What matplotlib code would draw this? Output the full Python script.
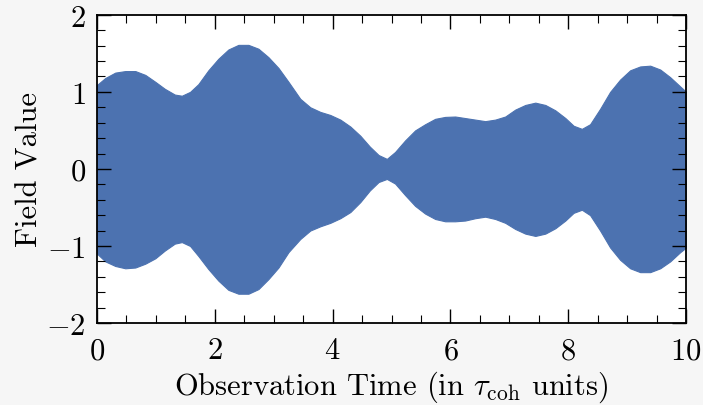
import numpy as np
import matplotlib
matplotlib.use("Agg")
import matplotlib.pyplot as plt
from matplotlib.ticker import MultipleLocator

# envelope of the field (time in tau_coh units)
t = [0.0, 0.14, 0.31, 0.48, 0.65, 0.82, 0.99,
     1.15, 1.32, 1.44, 1.58, 1.72, 1.89,
     2.06, 2.23, 2.40, 2.57, 2.74, 2.91,
     3.08, 3.25, 3.45, 3.62, 3.79, 3.96,
     4.13, 4.30, 4.47, 4.63, 4.78, 4.92,
     5.06, 5.23, 5.40, 5.57, 5.74, 5.91,
     6.08, 6.25, 6.42, 6.59, 6.76, 6.93,
     7.10, 7.27, 7.44, 7.61, 7.78, 7.95,
     8.09, 8.23, 8.37, 8.54, 8.71, 8.88,
     9.05, 9.22, 9.39, 9.56, 9.73, 9.90, 10.0]
upper = [1.09, 1.18, 1.25, 1.27, 1.27, 1.22, 1.13,
         1.04, 0.965, 0.95, 1.00, 1.10, 1.28,
         1.43, 1.55, 1.61, 1.61, 1.56, 1.45,
         1.31, 1.13, 0.91, 0.80, 0.74, 0.70,
         0.64, 0.55, 0.43, 0.29, 0.18, 0.13,
         0.22, 0.37, 0.50, 0.58, 0.65, 0.675,
         0.68, 0.66, 0.64, 0.62, 0.64, 0.68,
         0.77, 0.83, 0.86, 0.83, 0.76, 0.66,
         0.56, 0.52, 0.58, 0.78, 1.00, 1.16,
         1.28, 1.33, 1.34, 1.29, 1.19, 1.07, 1.00]
lower = [-1.10, -1.20, -1.26, -1.29, -1.28, -1.23, -1.16,
         -1.06, -0.97, -0.95, -1.00, -1.13, -1.30,
         -1.45, -1.57, -1.62, -1.62, -1.56, -1.43,
         -1.28, -1.08, -0.91, -0.80, -0.745, -0.70,
         -0.64, -0.56, -0.43, -0.28, -0.17, -0.13,
         -0.19, -0.34, -0.48, -0.58, -0.65, -0.68,
         -0.68, -0.67, -0.64, -0.62, -0.65, -0.70,
         -0.78, -0.84, -0.87, -0.84, -0.77, -0.67,
         -0.57, -0.53, -0.60, -0.80, -1.02, -1.18,
         -1.29, -1.34, -1.34, -1.29, -1.20, -1.08, -1.02]

plt.rcParams.update({
    "font.family": "serif",
    "font.serif": ["cmr10"],
    "mathtext.fontset": "cm",
    "axes.formatter.use_mathtext": True,
    "font.size": 22,
})

fig = plt.figure(figsize=(7.03, 4.06), dpi=100, facecolor="#f6f6f6")
ax = fig.add_axes([0.138, 0.202, 0.838, 0.759])
ax.set_facecolor("white")

ax.fill_between(t, lower, upper, color="#4C72B0", linewidth=0.8, edgecolor="#4C72B0")

ax.set_xlim(0, 10)
ax.set_ylim(-2, 2)
ax.xaxis.set_major_locator(MultipleLocator(2))
ax.xaxis.set_minor_locator(MultipleLocator(0.5))
ax.yaxis.set_major_locator(MultipleLocator(1))
ax.yaxis.set_minor_locator(MultipleLocator(0.2))
ax.tick_params(which="both", direction="in", top=True, right=True)
ax.tick_params(which="major", length=10, width=1.0)
ax.tick_params(which="minor", length=6, width=0.8)
ax.tick_params(axis="x", which="major", pad=10)
ax.tick_params(axis="y", which="major", pad=8)
for s in ax.spines.values():
    s.set_linewidth(1.3)

ax.set_xlabel(r"Observation Time (in $\tau_{\rm coh}$ units)", labelpad=3)
ax.set_ylabel("Field Value", labelpad=2)

fig.savefig("out.png", dpi=100, facecolor=fig.get_facecolor())
